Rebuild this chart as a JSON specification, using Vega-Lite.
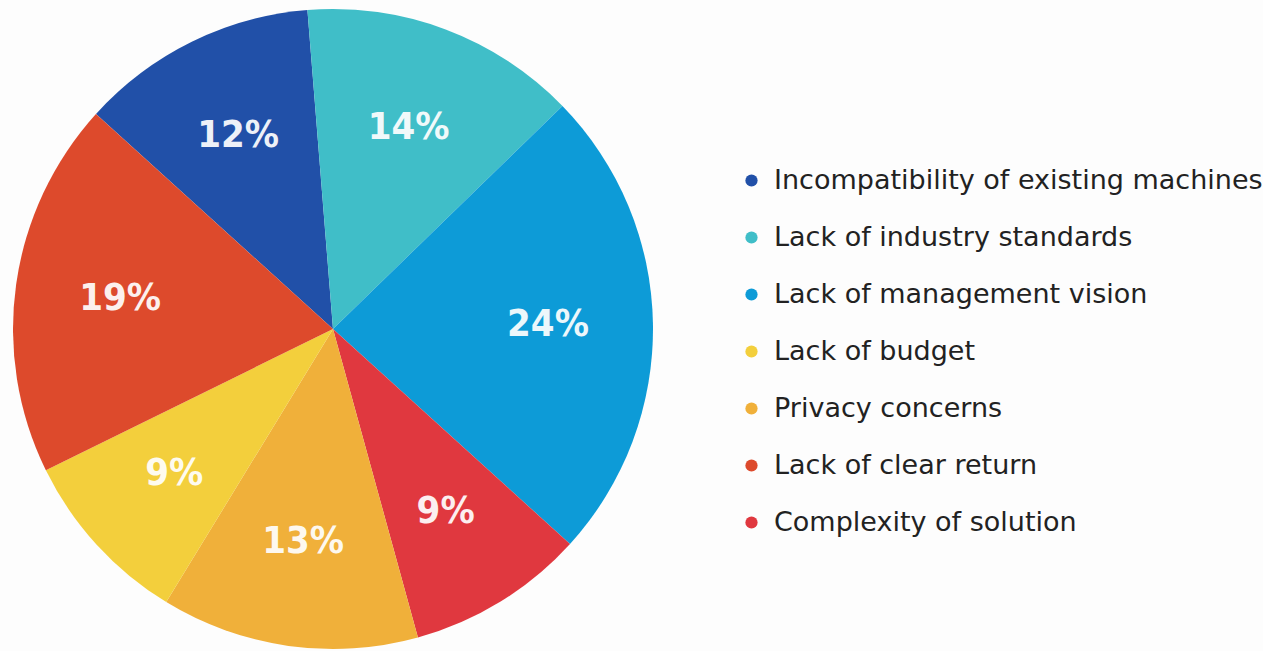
{
  "$schema": "https://vega.github.io/schema/vega-lite/v6.json",
  "width": 666,
  "height": 658,
  "padding": 0,
  "background": "#fdfdfd",
  "config": {"view": {"stroke": null}},
  "data": {
    "values": [
      {"cause": "Incompatibility of existing machines", "share": 0.12, "rank": 1},
      {"cause": "Lack of industry standards", "share": 0.14, "rank": 2},
      {"cause": "Lack of management vision", "share": 0.24, "rank": 3},
      {"cause": "Complexity of solution", "share": 0.09, "rank": 4},
      {"cause": "Privacy concerns", "share": 0.13, "rank": 5},
      {"cause": "Lack of budget", "share": 0.09, "rank": 6},
      {"cause": "Lack of clear return", "share": 0.19, "rank": 7}
    ]
  },
  "encoding": {
    "theta": {"field": "share", "type": "quantitative", "stack": true, "scale": {"range": [-0.834, 5.449]}},
    "order": {"field": "rank", "type": "quantitative"}
  },
  "layer": [
    {
      "mark": {"type": "arc", "outerRadius": 320},
      "encoding": {
        "color": {
          "field": "cause",
          "type": "nominal",
          "scale": {
            "domain": ["Incompatibility of existing machines", "Lack of industry standards", "Lack of management vision", "Lack of budget", "Privacy concerns", "Lack of clear return", "Complexity of solution"],
            "range": ["#2150a8", "#40bec8", "#0d9bd7", "#f3cf3c", "#f0b03a", "#dd4a2c", "#e0383f"]
          },
          "legend": {
            "title": null,
            "orient": "none",
            "legendX": 738,
            "legendY": 167,
            "symbolType": "circle",
            "symbolSize": 150,
            "symbolStrokeWidth": 0,
            "labelFont": "DejaVu Sans",
            "labelFontSize": 27,
            "labelColor": "#222222",
            "labelOffset": 9,
            "labelLimit": 700,
            "rowPadding": 29
          }
        }
      }
    },
    {
      "mark": {"type": "text", "radius": 215, "font": "DejaVu Sans Condensed, Roboto, sans-serif", "fontSize": 38, "fontWeight": "bold", "fill": "#ffffff", "opacity": 0.92},
      "encoding": {
        "detail": {"field": "cause", "type": "nominal"},
        "text": {"field": "share", "type": "quantitative", "format": ".0%"}
      }
    }
  ]
}
